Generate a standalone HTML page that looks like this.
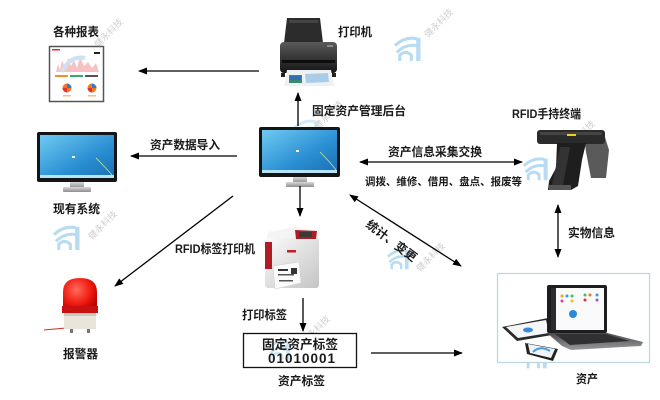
<!DOCTYPE html>
<html><head><meta charset="utf-8">
<style>
html,body{margin:0;padding:0;background:#fff;}
svg{display:block;}
text{font-family:"Liberation Sans","Noto Sans CJK SC",sans-serif;font-weight:bold;fill:#1a1a1a;}
.wmt{font-weight:normal;fill:#cfcfcf;font-size:9px;}
</style></head>
<body>
<svg width="660" height="400" viewBox="0 0 660 400" xmlns="http://www.w3.org/2000/svg">
<defs>
<marker id="ah" markerWidth="9" markerHeight="7" refX="8" refY="3.5" orient="auto" markerUnits="userSpaceOnUse">
<path d="M0,0 L9,3.5 L0,7 Z" fill="#000"/></marker>
<marker id="as" markerWidth="9" markerHeight="7" refX="1" refY="3.5" orient="auto" markerUnits="userSpaceOnUse">
<path d="M9,0 L0,3.5 L9,7 Z" fill="#000"/></marker>
<linearGradient id="scr" x1="0" y1="0" x2="1" y2="1">
<stop offset="0" stop-color="#6fcaf2"/><stop offset="0.6" stop-color="#2a8fd3"/><stop offset="1" stop-color="#1b6fb3"/></linearGradient>
<linearGradient id="std" x1="0" y1="0" x2="0" y2="1">
<stop offset="0" stop-color="#d8d8d8"/><stop offset="1" stop-color="#8d8d8d"/></linearGradient>
<linearGradient id="prt" x1="0" y1="0" x2="0" y2="1">
<stop offset="0" stop-color="#5a5a5a"/><stop offset="1" stop-color="#141414"/></linearGradient>
<linearGradient id="lp" x1="0" y1="0" x2="1" y2="1">
<stop offset="0" stop-color="#fbfbfb"/><stop offset="1" stop-color="#c4c4c4"/></linearGradient>
<radialGradient id="red" cx="0.4" cy="0.35" r="0.7">
<stop offset="0" stop-color="#ff6a5a"/><stop offset="0.6" stop-color="#f01a10"/><stop offset="1" stop-color="#b30000"/></radialGradient>
<linearGradient id="kb" x1="0" y1="0" x2="0" y2="1">
<stop offset="0" stop-color="#4a4a4c"/><stop offset="1" stop-color="#9a9a9c"/></linearGradient>
<symbol id="wm" viewBox="0 0 30 28">
<g fill="none" stroke="#b7dcf1" stroke-width="3.2">
<path d="M2,11 Q13,1 25,4"/>
<path d="M4,18 Q13,9 25,11"/>
<path d="M7,27 L7,21 Q13,15 19,21 L19,27"/>
</g>
<rect x="24" y="3" width="4.5" height="24" fill="#b7dcf1"/>
</symbol>
</defs>

<!-- watermarks -->
<use href="#wm" x="393" y="35" width="29" height="27"/>
<use href="#wm" x="52" y="224" width="29" height="27"/>
<use href="#wm" x="522" y="155" width="27" height="27"/>
<use href="#wm" x="384" y="248" width="28" height="22"/>
<use href="#wm" x="522" y="344" width="26" height="26"/>
<use href="#wm" x="292" y="118" width="28" height="26" opacity="0.6"/>
<text class="wmt" transform="translate(98,48) rotate(-45)">健永科技</text>
<text class="wmt" transform="translate(428,38) rotate(-45)">健永科技</text>
<text class="wmt" transform="translate(92,240) rotate(-45)">健永科技</text>
<text class="wmt" transform="translate(420,272) rotate(-45)">健永科技</text>
<text class="wmt" transform="translate(318,130) rotate(-45)">健永科技</text>
<text class="wmt" transform="translate(570,150) rotate(-45)">健永科技</text>
<text class="wmt" transform="translate(305,345) rotate(-45)">健永科技</text>
<text class="wmt" transform="translate(575,340) rotate(-45)">科技</text>

<!-- report -->
<rect x="49.5" y="46.5" width="54" height="55" fill="#fff" stroke="#555" stroke-width="1.5"/>
<rect x="52" y="49" width="8" height="1.5" fill="#e03030"/>
<rect x="94" y="52" width="6" height="2" fill="#222"/>
<path d="M56,72 L58,64 L60,70 L62,60 L65,68 L68,58 L71,66 L74,60 L77,68 L80,57 L84,66 L88,62 L92,68 L96,63 L99,72 Z" fill="#f2b4b4" opacity="0.8"/>
<path d="M62,72 Q70,55 85,58" fill="none" stroke="#cfe0f0" stroke-width="4"/>
<rect x="55" y="75" width="13" height="2" fill="#f0902a"/>
<rect x="70" y="75" width="13" height="2" fill="#2fb070"/>
<rect x="85" y="75" width="13" height="2" fill="#555"/>
<circle cx="67" cy="88" r="4.5" fill="#f07a20"/><path d="M67,88 L67,83.5 A4.5,4.5 0 0 1 71.5,88 Z" fill="#2a7fd0"/><path d="M67,88 L62.5,88 A4.5,4.5 0 0 0 67,92.5 Z" fill="#e83030"/>
<circle cx="92" cy="88" r="4.5" fill="#f07a20"/><path d="M92,88 L92,83.5 A4.5,4.5 0 0 1 96.5,88 Z" fill="#2a7fd0"/><path d="M92,88 L87.5,88 A4.5,4.5 0 0 0 92,92.5 Z" fill="#e83030"/>
<rect x="63" y="95" width="8" height="1.5" fill="#f5c080"/><rect x="88" y="95" width="8" height="1.5" fill="#f5c080"/>

<!-- inkjet printer -->
<polygon points="287,18 320,18 323,43 284,43" fill="#2c2c2c"/>
<rect x="289" y="20" width="29" height="3" fill="#444"/>
<rect x="280" y="42" width="57" height="31" rx="4" fill="url(#prt)"/>
<rect x="282" y="60" width="53" height="3" fill="#0d0d0d"/>
<rect x="327" y="45" width="6" height="2" fill="#888"/>
<polygon points="287,70 331,70 334,86 284,86" fill="#eef0f2"/>
<rect x="289" y="75" width="13" height="8" fill="#3a8a78"/>
<rect x="290" y="76" width="11" height="4" fill="#2f6fb0"/>
<polygon points="305,74 328,73 329,82 306,83" fill="#a9cde8"/>
<rect x="281" y="73" width="4" height="4" fill="#222"/><rect x="332" y="73" width="4" height="4" fill="#222"/>

<!-- center monitor -->
<rect x="259" y="127" width="81" height="50" rx="2" fill="#151515"/>
<rect x="262" y="130" width="75" height="43" fill="url(#scr)"/>
<rect x="262" y="170" width="75" height="3" fill="#b8e2f6"/>
<rect x="296" y="150" width="3" height="2" fill="#fff"/>
<path d="M320,152 Q330,162 336,170" stroke="#bde6a0" stroke-width="0.8" fill="none"/>
<rect x="293" y="177" width="14" height="6" fill="url(#std)"/>
<rect x="286" y="182" width="28" height="5" rx="1" fill="url(#std)"/>

<!-- left monitor -->
<rect x="37" y="132" width="80" height="50" rx="2" fill="#151515"/>
<rect x="40" y="135" width="74" height="43" fill="url(#scr)"/>
<rect x="40" y="175" width="74" height="3" fill="#b8e2f6"/>
<rect x="72" y="156" width="3" height="2" fill="#fff"/>
<path d="M96,158 Q106,168 112,175" stroke="#bde6a0" stroke-width="0.8" fill="none"/>
<rect x="70" y="182" width="14" height="6" fill="url(#std)"/>
<rect x="63" y="187" width="28" height="5" rx="1" fill="url(#std)"/>

<!-- RFID handheld -->
<polygon points="584,135 604,134 609,150 606,178 591,178 586,152" fill="#5a5a5a"/>
<rect x="537" y="130" width="68" height="14" rx="3" fill="#2b2b2b"/>
<rect x="540" y="132" width="62" height="3" fill="#444"/>
<rect x="567" y="134" width="9" height="2" fill="#e8d21a"/>
<polygon points="557,143 586,143 582,160 578,186 571,190 548,190 549,181 556,168" fill="#1e1e1e"/>
<polygon points="560,147 570,147 563,185 552,185" fill="#333"/>
<rect x="549" y="185" width="22" height="5" fill="#555"/>

<!-- label printer -->
<polygon points="268,232 296,227 320,231 318,240 266,242" fill="#f4f4f4"/>
<rect x="265" y="238" width="54" height="50" rx="3" fill="url(#lp)"/>
<polygon points="295,230 317,231 316,239 296,239" fill="#b01c24"/>
<rect x="299" y="232" width="13" height="5" fill="#3a3a3a"/>
<rect x="265" y="242" width="7" height="27" fill="#b01c24"/>
<rect x="287" y="250" width="9" height="2.5" fill="#c0202a"/>
<polygon points="273,266 299,262 301,283 275,289" fill="#fafafa" stroke="#ccc" stroke-width="0.5"/>
<rect x="278" y="269" width="10" height="2" fill="#333"/>
<rect x="278" y="274" width="16" height="1.5" fill="#555"/>
<rect x="291" y="268" width="6" height="6" fill="#333"/>
<rect x="279" y="280" width="14" height="1.5" fill="#555"/>

<!-- alarm -->
<line x1="66" y1="328" x2="44" y2="330" stroke="#d03020" stroke-width="1"/>
<path d="M63,312 L63,292 Q63,278 80,278 Q97,278 97,292 L97,312 Z" fill="url(#red)"/>
<rect x="62" y="306" width="36" height="7" fill="#c81010"/>
<rect x="64" y="313" width="32" height="16" fill="#e9e5db"/>
<rect x="64" y="313" width="32" height="3" fill="#cfc9bb"/>
<rect x="70" y="329" width="3" height="4" fill="#777"/><rect x="87" y="329" width="3" height="4" fill="#777"/>

<!-- laptop area -->
<rect x="497.5" y="273.5" width="152" height="89" fill="#fff" stroke="#bcd6e0" stroke-width="1.2"/>
<polygon points="502,327 548,318 552,335 517,341" fill="#2a2a2a"/>
<polygon points="506,327 546,320 549,333 518,338" fill="#f4f6f8"/>
<ellipse cx="528" cy="330" rx="5" ry="2.5" fill="#3a8ad8"/>
<rect x="547" y="285" width="60" height="48" rx="2" fill="#1d1d1f"/>
<rect x="551" y="288" width="53" height="42" fill="#fafafa"/>
<rect x="551" y="288" width="5" height="42" fill="#2c2c2e"/>
<circle cx="562" cy="296" r="1.5" fill="#f0a020"/><circle cx="567" cy="296" r="1.5" fill="#3a9ad8"/>
<circle cx="572" cy="296" r="1.5" fill="#40c060"/><circle cx="562" cy="301" r="1.5" fill="#e040a0"/>
<circle cx="572" cy="301" r="1.5" fill="#f0c020"/><circle cx="585" cy="295" r="1.5" fill="#40c060"/>
<circle cx="590" cy="295" r="1.5" fill="#f07020"/><circle cx="597" cy="295" r="1.5" fill="#3a9ad8"/>
<circle cx="585" cy="300" r="1.5" fill="#e03030"/><circle cx="597" cy="300" r="1.5" fill="#a050d0"/>
<circle cx="573" cy="314" r="4" fill="#2a8ad8"/>
<polygon points="547,333 607,333 643,342 641,346 571,350 562,346" fill="url(#kb)"/>
<polygon points="555,334 605,334 630,341 570,345" fill="#303032"/>
<polygon points="525,343 558,349 553,361 527,354" fill="#222"/>
<polygon points="528,344 555,349 551,358 530,353" fill="#eef4fa"/>
<path d="M533,352 Q540,345 550,351" stroke="#4a9ae0" stroke-width="2" fill="none"/>

<!-- connectors -->
<g stroke="#000" stroke-width="1.3" fill="none">
<line x1="259" y1="71" x2="139" y2="71" marker-end="url(#ah)"/>
<line x1="298" y1="126" x2="298" y2="93" marker-end="url(#ah)"/>
<line x1="237" y1="156" x2="131" y2="156" marker-end="url(#ah)"/>
<line x1="360" y1="162" x2="522" y2="162" marker-start="url(#as)" marker-end="url(#ah)"/>
<line x1="300" y1="186" x2="300" y2="216" marker-end="url(#ah)"/>
<line x1="233" y1="196" x2="115" y2="286" marker-end="url(#ah)"/>
<line x1="350" y1="195" x2="461" y2="266" marker-start="url(#as)" marker-end="url(#ah)"/>
<line x1="558" y1="205" x2="558" y2="257" marker-start="url(#as)" marker-end="url(#ah)"/>
<line x1="303" y1="298" x2="303" y2="331" marker-end="url(#ah)"/>
<line x1="371" y1="353" x2="462" y2="353" marker-end="url(#ah)"/>
</g>

<!-- label box -->
<rect x="243.5" y="333.5" width="113" height="34" fill="#fff" stroke="#111" stroke-width="1.3"/>
<use href="#wm" x="267" y="338" width="24" height="24" opacity="0.7"/>

<!-- labels -->
<g font-size="12">
<text x="53" y="36" textLength="46" lengthAdjust="spacingAndGlyphs">各种报表</text>
<text x="338" y="36" textLength="34" lengthAdjust="spacingAndGlyphs">打印机</text>
<text x="312" y="115" textLength="94" lengthAdjust="spacingAndGlyphs">固定资产管理后台</text>
<text x="512" y="118" textLength="69" lengthAdjust="spacingAndGlyphs">RFID手持终端</text>
<text x="150" y="149" textLength="70" lengthAdjust="spacingAndGlyphs">资产数据导入</text>
<text x="53" y="213" textLength="47" lengthAdjust="spacingAndGlyphs">现有系统</text>
<text x="388" y="156" textLength="94" lengthAdjust="spacingAndGlyphs">资产信息采集交换</text>
<text x="568" y="237" textLength="47" lengthAdjust="spacingAndGlyphs">实物信息</text>
<text x="175" y="253" textLength="80" lengthAdjust="spacingAndGlyphs">RFID标签打印机</text>
<text x="242" y="319" textLength="45" lengthAdjust="spacingAndGlyphs">打印标签</text>
<text x="63" y="358" textLength="35" lengthAdjust="spacingAndGlyphs">报警器</text>
<text x="278" y="385" textLength="47" lengthAdjust="spacingAndGlyphs">资产标签</text>
<text x="576" y="383" textLength="22" lengthAdjust="spacingAndGlyphs">资产</text>
<text transform="translate(365,226) rotate(37)" textLength="60" lengthAdjust="spacingAndGlyphs">统计、变更</text>
</g>
<text x="365" y="185" font-size="10.5" textLength="157" lengthAdjust="spacingAndGlyphs">调拨、维修、借用、盘点、报废等</text>
<text x="262" y="349" font-size="13" textLength="76" lengthAdjust="spacingAndGlyphs">固定资产标签</text>
<text x="268" y="363" font-size="13.5" textLength="67" lengthAdjust="spacing">01010001</text>
</svg>
</body></html>
